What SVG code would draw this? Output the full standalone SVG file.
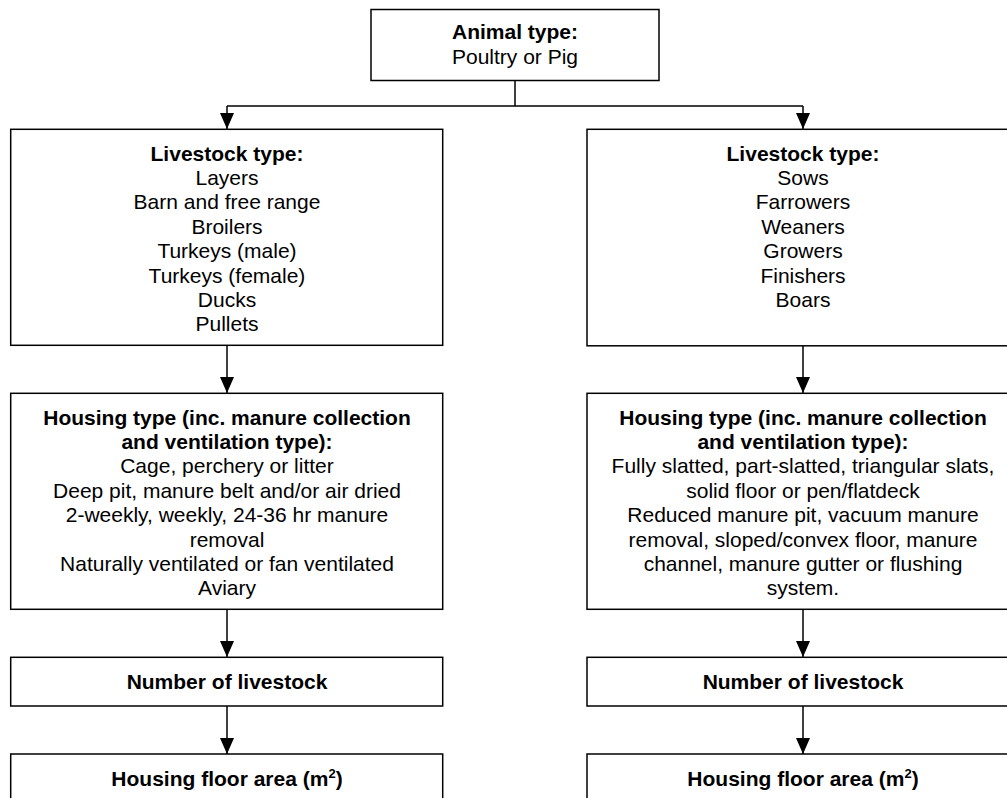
<svg xmlns="http://www.w3.org/2000/svg" width="1007" height="798" viewBox="0 0 1007 798">
<style>
.box{fill:#fff;stroke:#000;stroke-width:1.5}
.t{font-family:"Liberation Sans",Arial,sans-serif;font-size:21px;fill:#000;text-anchor:middle}
.b{font-weight:bold}
.c{fill:none;stroke:#000;stroke-width:1.5}
</style>
<defs>
<marker id="ah" markerUnits="userSpaceOnUse" markerWidth="16" markerHeight="14" refX="16" refY="7" orient="auto">
<path d="M0,0 L16,7 L0,14 z" fill="#000"/>
</marker>
</defs>
<rect width="1007" height="798" fill="#fff"/>
<g id="connectors">
<path class="c" d="M515,81 V106"/>
<path class="c" d="M227,106 H803"/>
<path class="c" d="M227,106 V129" marker-end="url(#ah)"/>
<path class="c" d="M803,106 V129" marker-end="url(#ah)"/>
<path class="c" d="M227,345 V393" marker-end="url(#ah)"/>
<path class="c" d="M803,346 V393" marker-end="url(#ah)"/>
<path class="c" d="M227,609 V657" marker-end="url(#ah)"/>
<path class="c" d="M803,609 V657" marker-end="url(#ah)"/>
<path class="c" d="M227,706 V754" marker-end="url(#ah)"/>
<path class="c" d="M803,706 V754" marker-end="url(#ah)"/>
</g>
<g id="animal">
<rect class="box" x="371" y="9.5" width="288" height="71"/>
<text class="t"><tspan class="b" x="515" y="39">Animal type:</tspan><tspan x="515" y="64">Poultry or Pig</tspan></text>
</g>
<g id="livestock-poultry">
<rect class="box" x="10.7" y="129.3" width="432" height="216"/>
<text class="t"><tspan class="b" x="227" y="160.5">Livestock type:</tspan><tspan x="227" y="184.9">Layers</tspan><tspan x="227" y="209.3">Barn and free range</tspan><tspan x="227" y="233.7">Broilers</tspan><tspan x="227" y="258.1">Turkeys (male)</tspan><tspan x="227" y="282.5">Turkeys (female)</tspan><tspan x="227" y="306.9">Ducks</tspan><tspan x="227" y="331.3">Pullets</tspan></text>
</g>
<g id="livestock-pig">
<rect class="box" x="587" y="129.3" width="432" height="216.5"/>
<text class="t"><tspan class="b" x="803" y="160.5">Livestock type:</tspan><tspan x="803" y="184.9">Sows</tspan><tspan x="803" y="209.3">Farrowers</tspan><tspan x="803" y="233.7">Weaners</tspan><tspan x="803" y="258.1">Growers</tspan><tspan x="803" y="282.5">Finishers</tspan><tspan x="803" y="306.9">Boars</tspan></text>
</g>
<g id="housing-poultry">
<rect class="box" x="10.7" y="393.3" width="432" height="216"/>
<text class="t"><tspan class="b" x="227" y="424.5">Housing type (inc. manure collection</tspan><tspan class="b" x="227" y="448.9">and ventilation type):</tspan><tspan x="227" y="473.3">Cage, perchery or litter</tspan><tspan x="227" y="497.7">Deep pit, manure belt and/or air dried</tspan><tspan x="227" y="522.1">2-weekly, weekly, 24-36 hr manure</tspan><tspan x="227" y="546.5">removal</tspan><tspan x="227" y="570.9">Naturally ventilated or fan ventilated</tspan><tspan x="227" y="595.3">Aviary</tspan></text>
</g>
<g id="housing-pig">
<rect class="box" x="587" y="393.3" width="432" height="216"/>
<text class="t"><tspan class="b" x="803" y="424.5">Housing type (inc. manure collection</tspan><tspan class="b" x="803" y="448.9">and ventilation type):</tspan><tspan x="803" y="473.3">Fully slatted, part-slatted, triangular slats,</tspan><tspan x="803" y="497.7">solid floor or pen/flatdeck</tspan><tspan x="803" y="522.1">Reduced manure pit, vacuum manure</tspan><tspan x="803" y="546.5">removal, sloped/convex floor, manure</tspan><tspan x="803" y="570.9">channel, manure gutter or flushing</tspan><tspan x="803" y="595.3">system.</tspan></text>
</g>
<g id="number-poultry">
<rect class="box" x="10.7" y="657.3" width="432" height="48.7"/>
<text class="t b" x="227" y="689">Number of livestock</text>
</g>
<g id="number-pig">
<rect class="box" x="587" y="657.3" width="432" height="48.7"/>
<text class="t b" x="803" y="689">Number of livestock</text>
</g>
<g id="floor-poultry">
<rect class="box" x="10.7" y="754" width="432" height="60"/>
<text class="t b" x="227" y="786">Housing floor area (m<tspan font-size="13" dy="-8">2</tspan><tspan dy="8">)</tspan></text>
</g>
<g id="floor-pig">
<rect class="box" x="587" y="754" width="432" height="60"/>
<text class="t b" x="803" y="786">Housing floor area (m<tspan font-size="13" dy="-8">2</tspan><tspan dy="8">)</tspan></text>
</g>
</svg>
